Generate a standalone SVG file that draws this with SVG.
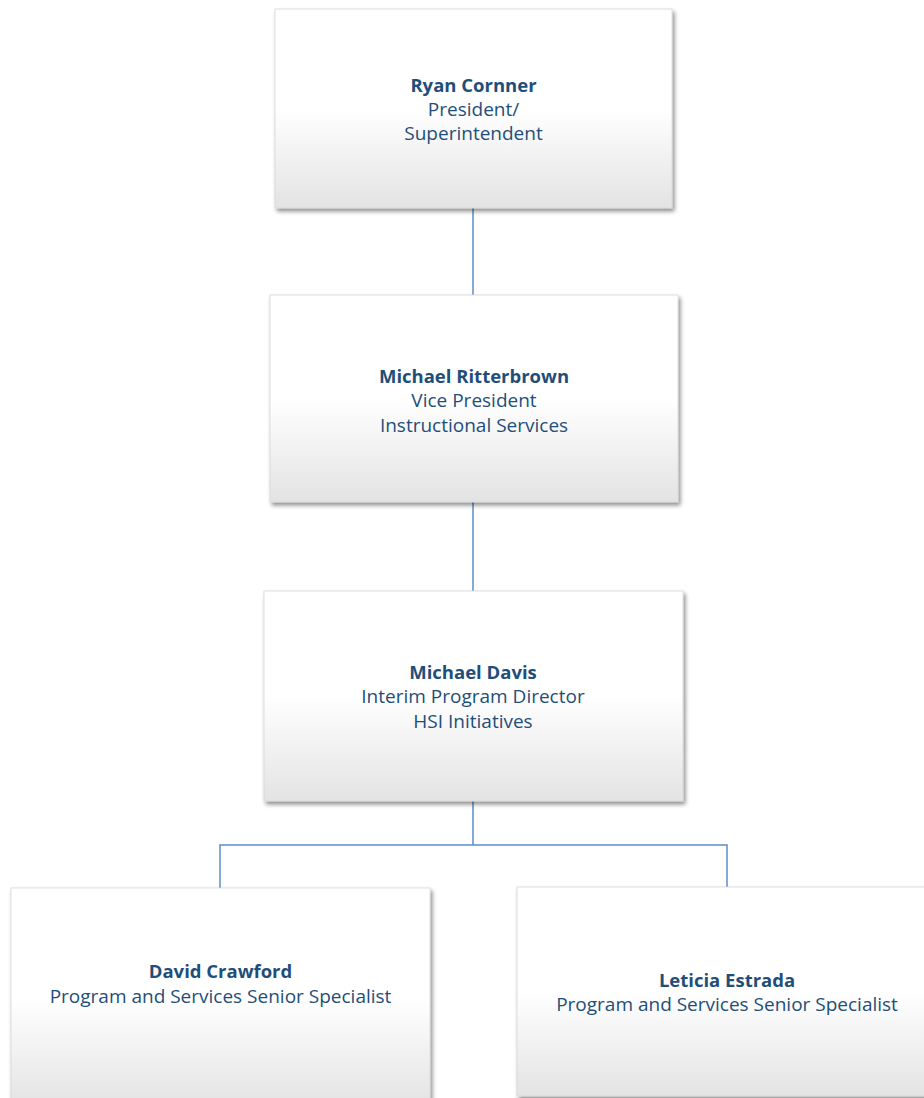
<svg xmlns="http://www.w3.org/2000/svg" width="924" height="1098" viewBox="0 0 924 1098">
<defs>
<linearGradient id="g" x1="0" y1="0" x2="0" y2="1">
<stop offset="0" stop-color="#ffffff"/>
<stop offset="0.5" stop-color="#ffffff"/>
<stop offset="1" stop-color="#e3e3e3"/>
</linearGradient>
<filter id="sh" x="-5%" y="-5%" width="112%" height="115%">
<feGaussianBlur in="SourceAlpha" stdDeviation="2"/>
<feOffset dx="2" dy="3" result="o"/>
<feComponentTransfer><feFuncA type="linear" slope="0.45"/></feComponentTransfer>
<feMerge><feMergeNode/><feMergeNode in="SourceGraphic"/></feMerge>
</filter>
</defs>
<style>
.box{fill:url(#g);stroke:#d6d6d6;stroke-width:0.8;filter:url(#sh)}
text{font-family:"Open Sans","Noto Sans",sans-serif;font-size:19px;fill:#1f4e79;text-anchor:middle}
.b{font-weight:bold;font-size:18.5px}
.c{fill:none;stroke:#5b8fc9;stroke-width:1.5}
</style>
<g id="connectors">
<path class="c" d="M473,208 V295"/>
<path class="c" d="M473,502 V591"/>
<path class="c" d="M473,801 V845 M220,888 V845 H727 V887"/>
</g>
<g id="n1">
<rect class="box" x="275" y="9" width="397" height="199"/>
<text class="b" x="473.5" y="92">Ryan Cornner</text>
<text x="473.5" y="116">President/</text>
<text x="473.5" y="140">Superintendent</text>
</g>
<g id="n2">
<rect class="box" x="270" y="295" width="408" height="207"/>
<text class="b" x="474" y="383">Michael Ritterbrown</text>
<text x="474" y="407">Vice President</text>
<text x="474" y="432">Instructional Services</text>
</g>
<g id="n3">
<rect class="box" x="264" y="591" width="419" height="210"/>
<text class="b" x="473" y="679">Michael Davis</text>
<text x="473" y="703">Interim Program Director</text>
<text x="473" y="728">HSI Initiatives</text>
</g>
<g id="n4">
<rect class="box" x="11" y="888" width="419" height="220"/>
<text class="b" x="220.5" y="978">David Crawford</text>
<text x="220.5" y="1003">Program and Services Senior Specialist</text>
</g>
<g id="n5">
<rect class="box" x="517" y="887" width="420" height="209"/>
<text class="b" x="727" y="987">Leticia Estrada</text>
<text x="727" y="1011">Program and Services Senior Specialist</text>
</g>
</svg>
